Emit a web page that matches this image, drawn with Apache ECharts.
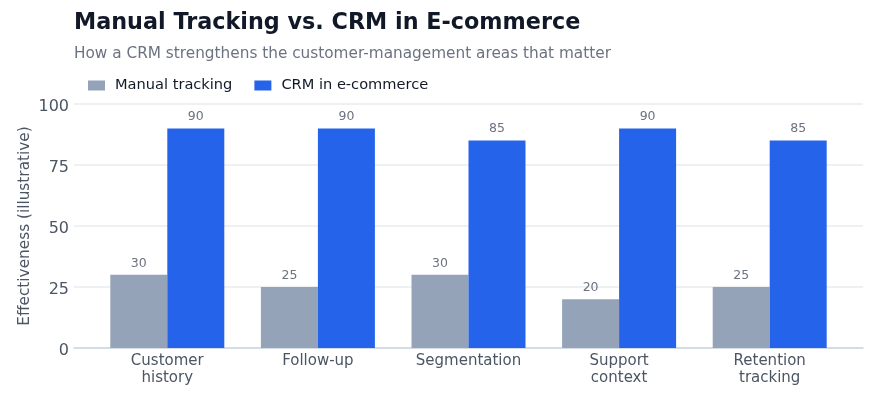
<!DOCTYPE html>
<html>
<head>
<meta charset="utf-8">
<script src="https://cdn.jsdelivr.net/npm/echarts@6/dist/echarts.min.js"></script>
<style>
html,body{margin:0;padding:0;background:#fff;}
#chart{width:876px;height:400px;}
</style>
</head>
<body>
<div id="chart"></div>
<script>
const categories = ['Customer\nhistory', 'Follow-up', 'Segmentation', 'Support\ncontext', 'Retention\ntracking'];
const manualValues = [30, 25, 30, 20, 25];
const crmValues = [90, 90, 85, 90, 85];
const seriesNames = ['Manual tracking', 'CRM in e-commerce'];
const yTicks = [0, 25, 50, 75, 100];

const font = 'DejaVu Sans';
const chart = echarts.init(document.getElementById('chart'), null, {renderer: 'canvas'});
chart.setOption({
  backgroundColor: '#ffffff',
  animation: false,
  textStyle: {fontFamily: font},
  title: {
    text: 'Manual Tracking vs. CRM in E-commerce',
    subtext: 'How a CRM strengthens the customer-management areas that matter',
    left: 69, top: 7,
    itemGap: 13,
    textStyle: {fontFamily: font, fontSize: 22.3, fontWeight: 'bold', color: '#111827'},
    subtextStyle: {fontFamily: font, fontSize: 15.3, color: '#6b7280'}
  },
  legend: {
    data: seriesNames,
    left: 83, top: 73,
    itemWidth: 17, itemHeight: 10, itemGap: 22,
    icon: 'rect',
    textStyle: {fontFamily: font, fontSize: 14.6, color: '#111827', padding: [0, 0, 0, 5]}
  },
  grid: [
    {left: 74, right: 13, top: 104, bottom: 52},
    {left: 92, right: 31, top: 104, bottom: 52}
  ],
  xAxis: [
    {type: 'value', gridIndex: 0, min: 0, max: 1, show: true,
     axisLine: {show: true, lineStyle: {color: '#cbd5e1', width: 1.5}},
     axisTick: {show: false}, axisLabel: {show: false}, splitLine: {show: false}},
    {type: 'category', gridIndex: 1, data: categories,
     axisLine: {show: false}, axisTick: {show: false},
     axisLabel: {fontFamily: font, fontSize: 15, color: '#4b5563', margin: 5, lineHeight: 17}}
  ],
  yAxis: [
    {type: 'value', gridIndex: 0, min: yTicks[0], max: yTicks[yTicks.length - 1], interval: 25,
     name: 'Effectiveness (illustrative)', nameLocation: 'middle', nameGap: 41, nameMoveOverlap: false,
     nameTextStyle: {fontFamily: font, fontSize: 15.3, color: '#4b5563'},
     axisLine: {show: false}, axisTick: {show: false},
     axisLabel: {fontFamily: font, fontSize: 16, color: '#4b5563', margin: 5,
       formatter: '{v|{value}}',
       rich: {v: {fontFamily: font, fontSize: 16, color: '#4b5563', padding: [5, 0, 0, 0]}}},
     splitLine: {show: true, lineStyle: {color: '#e8ecf1', width: 1.5}}},
    {type: 'value', gridIndex: 1, min: 0, max: 100, show: false}
  ],
  series: [
    {name: seriesNames[0], type: 'bar', xAxisIndex: 1, yAxisIndex: 1, data: manualValues,
     barWidth: 57, barGap: '0%',
     itemStyle: {color: '#94a3b8'},
     label: {show: true, position: 'top', distance: 5, fontFamily: font, fontSize: 12.5, color: '#6b7280'}},
    {name: seriesNames[1], type: 'bar', xAxisIndex: 1, yAxisIndex: 1, data: crmValues,
     barWidth: 57, barGap: '0%',
     itemStyle: {color: '#2563eb'},
     label: {show: true, position: 'top', distance: 5, fontFamily: font, fontSize: 12.5, color: '#6b7280'}}
  ]
});
</script>
</body>
</html>
